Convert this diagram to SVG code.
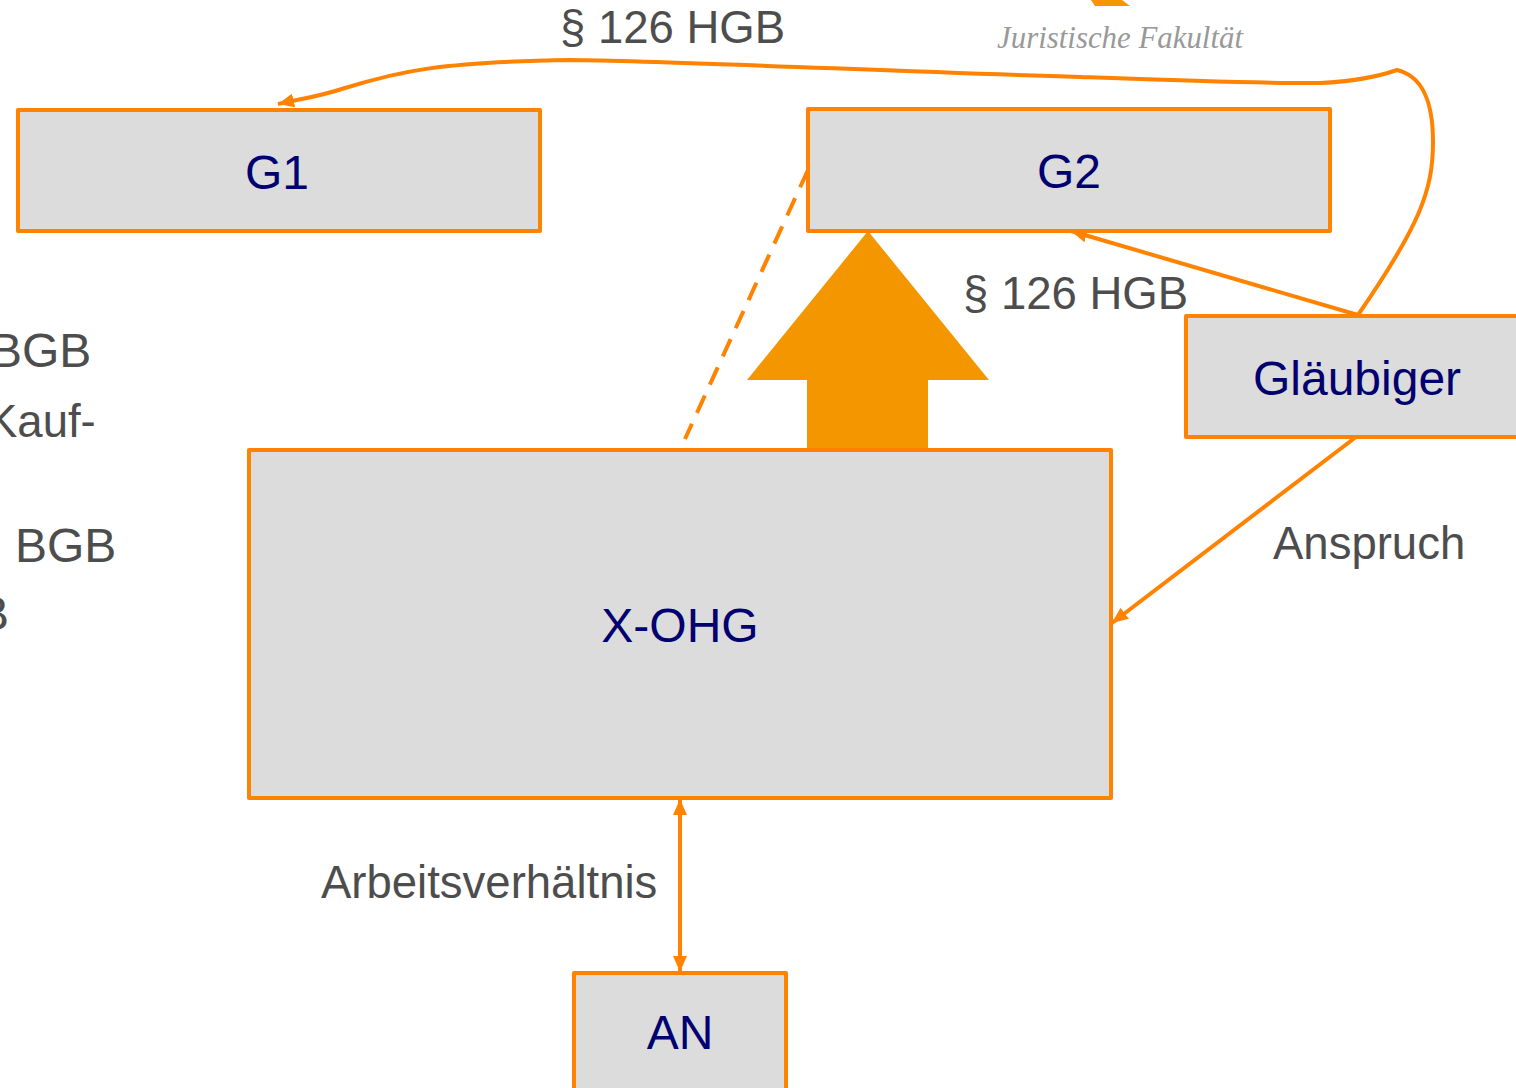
<svg xmlns="http://www.w3.org/2000/svg" width="1516" height="1088" viewBox="0 0 1516 1088">
<style>
.n{fill:#dcdcdc;stroke:#ff8200;stroke-width:4;stroke-linejoin:round}
.l{font-family:"Liberation Sans",Arial,sans-serif;font-size:48px;fill:#000070;text-anchor:middle}
.t{font-family:"Liberation Sans",Arial,sans-serif;font-size:45.5px;fill:#4d4d4d}
.b{font-size:48px}
.c{fill:none;stroke:#ff8200;stroke-width:4}
</style>
<defs>
<marker id="a" markerUnits="userSpaceOnUse" markerWidth="18" markerHeight="14" refX="16" refY="7" orient="auto-start-reverse"><path d="M0 0L16 7L0 14Z" fill="#ff8200"/></marker>
</defs>
<rect width="1516" height="1088" fill="#fff"/>
<path d="M1091 0H1122L1130 6H1095Z" fill="#f39600"/>
<text x="997" y="48" font-family="Liberation Serif,serif" font-style="italic" font-size="31.5" fill="#999" textLength="246" lengthAdjust="spacingAndGlyphs">Juristische Fakultät</text>
<path d="M868 231L989 380H928V451H807V380H747Z" fill="#f39600"/>
<g id="connectors">
<path class="c" d="M278 104C300 99 318 97 345 88C400 71 440 62 570 60C680 61 900 72 1080 77C1190 81 1270 84 1320 83C1360 81 1380 76 1397 70C1422 76 1433 100 1433 142C1433 190 1420 225 1358 315" marker-start="url(#a)"/>
<path class="c" d="M1358 315L1071 231" marker-end="url(#a)"/>
<path class="c" d="M1356 437L1112 623" marker-end="url(#a)"/>
<path class="c" d="M680 799V972" marker-start="url(#a)" marker-end="url(#a)"/>
<path class="c" d="M808 170L685 439" stroke-dasharray="19 12"/>
</g>
<g id="g1"><rect class="n" x="18" y="110" width="522" height="121"/><text class="l" x="277" y="189">G1</text></g>
<g id="g2"><rect class="n" x="808" y="109" width="522" height="122"/><text class="l" x="1069" y="188">G2</text></g>
<g id="glaeubiger"><rect class="n" x="1186" y="316" width="332" height="121"/><text class="l" x="1357" y="395">Gläubiger</text></g>
<g id="xohg"><rect class="n" x="249" y="450" width="862" height="348"/><text class="l" x="680" y="642">X-OHG</text></g>
<g id="an"><rect class="n" x="574" y="973" width="212" height="120"/><text class="l" x="680" y="1049">AN</text></g>
<text class="t" x="560" y="43">§ 126 HGB</text>
<text class="t" x="963" y="309">§ 126 HGB</text>
<text class="t" x="1273" y="559">Anspruch</text>
<text class="t" x="321" y="898">Arbeitsverhältnis</text>
<text class="t b" x="-10" y="367">BGB</text>
<text class="t" x="-13" y="437">Kauf-</text>
<text class="t b" x="15" y="562">BGB</text>
<text class="t b" x="-23" y="630">B</text>
</svg>
